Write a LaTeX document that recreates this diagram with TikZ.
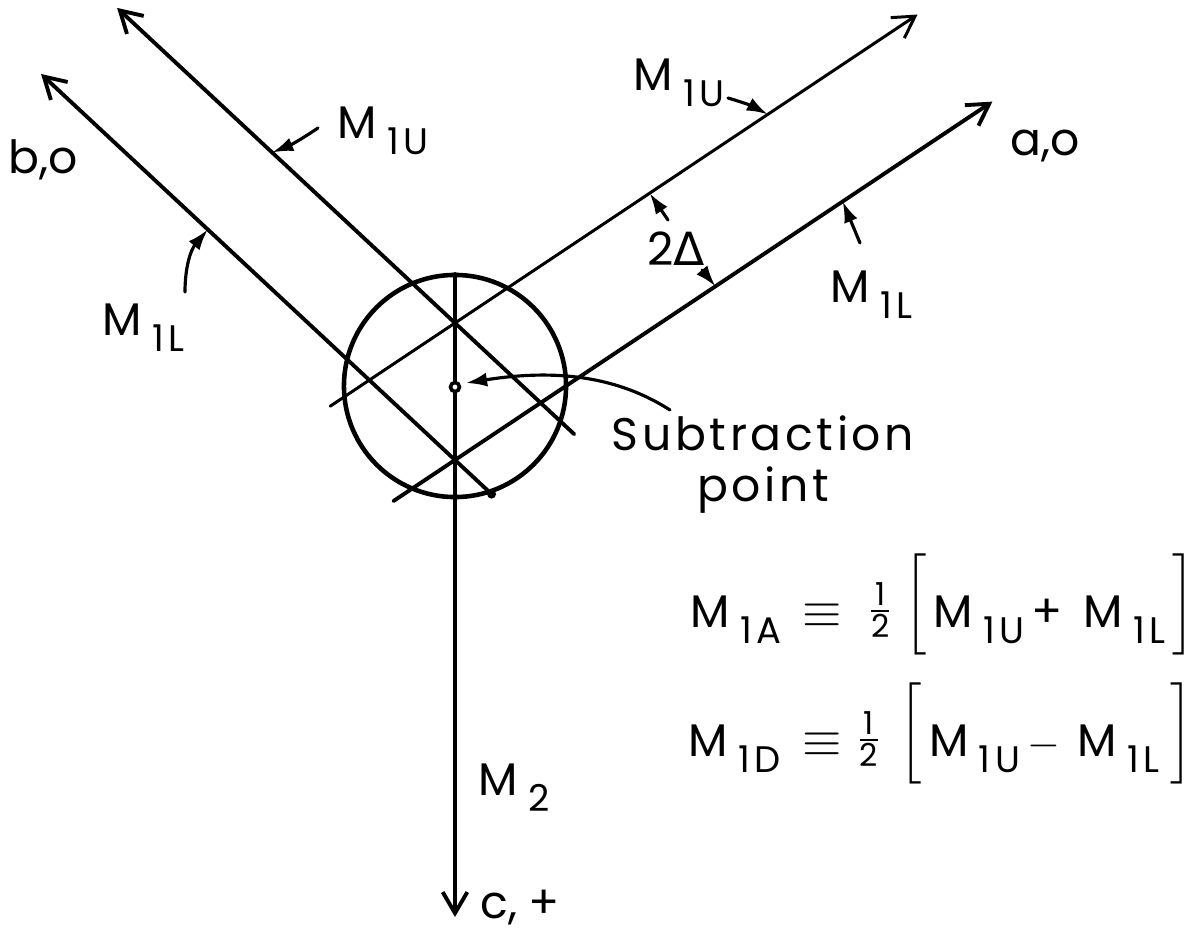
\documentclass[tikz,border=0pt]{standalone}
\usepackage{fontspec}
\usepackage{amsmath}
\setmainfont{Poppins}
\newfontfamily\symfont{DejaVu Sans}
\usetikzlibrary{arrows.meta,calc}
\newcommand{\lblfont}{\fontsize{13}{15.4}\selectfont}
\newcommand{\subfont}{\fontsize{10.5}{12}\selectfont\addfontfeature{LetterSpace=12}}
\newcommand{\Msub}[1]{M\hspace{3pt}\raisebox{-4.8pt}{\subfont #1}}
\newcommand{\halfc}{\raisebox{1.5pt}{$\frac{\mbox{\fontsize{9}{10}\selectfont 1}}{\mbox{\fontsize{9}{10}\selectfont 2}}$}}
\newcommand{\eqv}{\mbox{\fontsize{14.5}{15}\selectfont$\equiv$}}
\newcommand{\lbr}{\raisebox{3.5pt}{$\bigg[$}}
\newcommand{\rbr}{\raisebox{3.5pt}{$\bigg]$}}

\begin{document}
\begin{tikzpicture}[
        x=0.01cm, y=0.01cm,
        line cap=round,
        beam/.style={line width=1.1pt},
        tip/.style={-{Straight Barb[length=6pt,width=7pt]}},
        lead/.style={line width=0.9pt, -{Latex[length=6pt,width=4pt]}},
        lab/.style={anchor=base west, inner sep=0pt, font=\lblfont}
    ]
    \useasboundingbox (0,0) rectangle (1202,-936);

    \coordinate (C) at (455,-386);
    \coordinate (U) at (455,-323);
    \coordinate (L) at (455,-460);
    \coordinate (top) at (455,-274);
    \coordinate (bot) at (455,-917);

    \coordinate (bU1) at ($(U)+(-43:163)$);
    \coordinate (bU2) at ($(U)+(137:462)$);
    \coordinate (bL1) at ($(L)+(-43:50)$);
    \coordinate (bL2) at ($(L)+(137:566)$);
    \coordinate (aU1) at ($(U)+(213.7:150)$);
    \coordinate (aU2) at ($(U)+(33.7:556)$);
    \coordinate (aL1) at ($(L)+(213.7:74)$);
    \coordinate (aL2) at ($(L)+(33.7:646)$);

    \draw[line width=1.3pt] (C) circle[radius=1.11cm];
    \draw[beam, tip] (top) -- (bot);
    \draw[beam, tip] (bU1) -- (bU2);
    \draw[beam, tip] (bL1) -- (bL2);
    \draw[line width=0.85pt, tip] (aU1) -- (aU2);
    \draw[beam, tip] (aL1) -- (aL2);
    \fill (bL1) circle[radius=0.045cm];
    \node[circle, draw, line width=1pt, fill=white, inner sep=0pt, minimum size=0.09cm] (sp) at (455,-387) {};

    \node[lab] (bo) at (8,-173) {b,o};
    \node[lab] (ao) at (1010,-155) {a,o};
    \node[lab] (lUb) at (337,-138) {\Msub{1U}};
    \node[lab] (lLb) at (102,-335) {\Msub{1L}};
    \node[lab] (lUa) at (633,-90) {\Msub{1U}};
    \node[lab] (lLa) at (830,-302) {\Msub{1L}};
    \node[lab] (dlt) at (647,-265) {2{\symfont Δ}};
    \node[lab] (m2) at (478,-795) {\Msub{2}};
    \node[lab] (cp) at (480,-918) {c,\hspace{3pt}+};
    \node[anchor=north, inner sep=0pt, align=center, font=\lblfont\addfontfeature{LetterSpace=8}] (sub) at (763,-415) {Subtraction\\[-1pt]point};

    \node[lab] (eqA) at (690,-627) {\Msub{1A}\hspace{6pt}\eqv\hspace{7pt}\halfc\hspace{3pt}\lbr\hspace{2pt}\Msub{1U}\hspace{2pt}+\hspace{6pt}\Msub{1L}\hspace{2pt}\rbr};
    \node[lab] (eqD) at (688,-756) {\Msub{1D}\hspace{6pt}\eqv\hspace{4pt}\halfc\hspace{5pt}\lbr\hspace{2pt}\Msub{1U}\hspace{2pt}$-$\hspace{5pt}\Msub{1L}\hspace{3pt}\rbr};

    \coordinate (tUb) at (318,-128);
    \coordinate (hUb) at ($(U)+(137:250)$);
    \coordinate (tLb) at (185,-292);
    \coordinate (hLb) at ($(L)+(137:338)$);
    \coordinate (tUa) at (728,-98);
    \coordinate (hUa) at ($(U)+(33.7:376)$);
    \coordinate (tLa) at (860,-243);
    \coordinate (hLa) at ($(L)+(33.7:466)$);
    \coordinate (tDu) at (668,-220);
    \coordinate (hDu) at ($(U)+(33.7:234)$);
    \coordinate (tDl) at (702,-270);
    \coordinate (hDl) at ($(L)+(33.7:313)$);
    \coordinate (tS) at (670,-410);
    \coordinate (hS) at (466,-383);

    \draw[lead] (tUb) to[bend left=6] (hUb);
    \draw[lead] (tLb) to[bend left=20] (hLb);
    \draw[lead] (tUa) to[bend left=6] (hUa);
    \draw[lead] (tLa) -- (hLa);
    \draw[lead] (tDu) -- (hDu);
    \draw[lead] (tDl) -- (hDl);
    \draw[lead] (tS) .. controls (620,-378) and (560,-368) .. (hS);
\end{tikzpicture}
\end{document}
